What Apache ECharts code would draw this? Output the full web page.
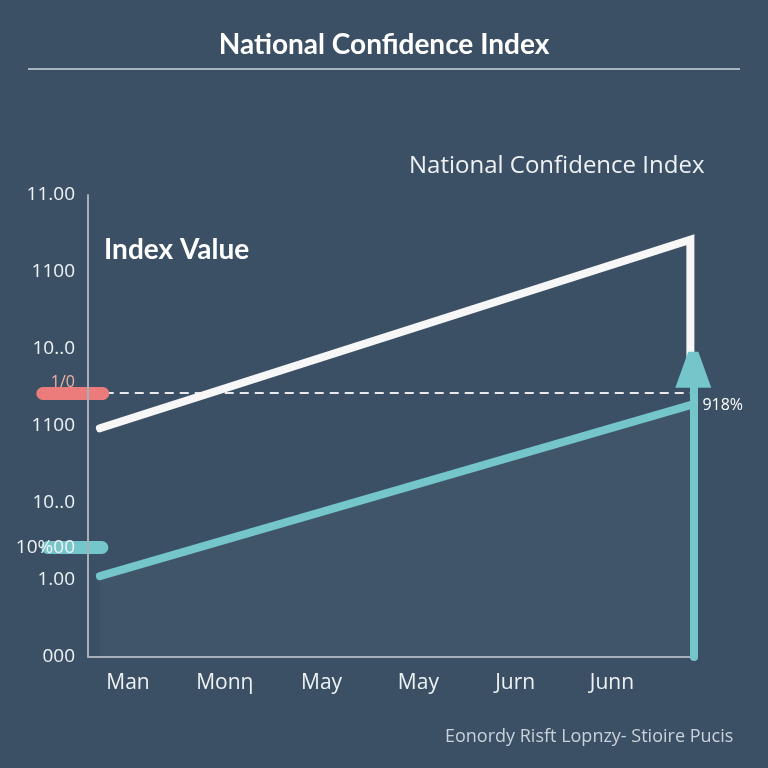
<!DOCTYPE html>
<html>
<head>
<meta charset="utf-8">
<script src="https://cdn.jsdelivr.net/npm/echarts@6/dist/echarts.min.js"></script>
<style>html,body{margin:0;padding:0;background:#3b5064;}#chart{width:768px;height:768px;}</style>
</head>
<body>
<div id="chart"></div>
<script>
// ---- data ----
const monthLabels = ['Man', 'Monη', 'May', 'May', 'Jurn', 'Junn'];
const monthPositions = [0, 1, 2, 3, 4, 5];
const yTickValues = [0, 1, 1.42, 2, 3, 3.56, 4, 5, 6];
const yTickLabels = ['000', '1.00', '10%00', '10..0', '1100', '1/0', '10..0', '1100', '11.00'];
const whiteX = [-0.29, 5.81, 5.81];
const whiteY = [2.97, 5.42, 3.83];
const tealX = [-0.29, 5.81];
const tealY = [1.05, 3.27];
const tealEndLabel = '918%';
const arrowX = [5.84, 5.84];
const arrowY = [0, 3.73];
const dashedLevel = 3.43;
const dashedX = [-0.24, 5.84];
const redMarkerX = [-0.88, -0.26];
const redMarkerY = [3.43, 3.43];
const tealMarkerX = [-0.83, -0.27];
const tealMarkerY = [1.42, 1.42];

const chart = echarts.init(document.getElementById('chart'));
const zip = (xs, ys) => xs.map((x, i) => [x, ys[i]]);

const option = {
  backgroundColor: '#3b5064',
  animation: false,
  title: [
    { text: 'National Confidence Index', left: 'center', top: 26,
      textStyle: { color: '#ffffff', fontSize: 28, fontWeight: 'bold', fontFamily: 'Lato' } },
    { text: 'National Confidence Index', left: 404, top: 149,
      textStyle: { color: '#eef2f4', fontSize: 24, fontWeight: 'normal', fontFamily: 'Open Sans' } },
    { text: 'Index Value', left: 99, top: 231,
      textStyle: { color: '#ffffff', fontSize: 28, fontWeight: 'bold', fontFamily: 'Lato' } },
    { text: 'Eonordy Risft Lopnzy- Stioire Pucis', left: 440, top: 723,
      textStyle: { color: '#c9d2da', fontSize: 18, fontWeight: 'normal', fontFamily: 'Open Sans' } }
  ],
  graphic: [
    { type: 'line', shape: { x1: 28, y1: 69, x2: 740, y2: 69 },
      style: { stroke: '#a9b5be', lineWidth: 2 } }
  ],
  grid: { left: 88, right: 75, top: 195, bottom: 111 },
  xAxis: {
    type: 'value', min: -0.413, max: 5.837,
    axisLine: { show: true, onZero: false, lineStyle: { color: '#a5b0ba', width: 2 } },
    axisTick: { show: false },
    splitLine: { show: false },
    axisLabel: {
      customValues: monthPositions,
      formatter: v => monthLabels[monthPositions.indexOf(Math.round(v))] || '',
      color: '#eef2f4', fontSize: 21, margin: 16, fontFamily: 'Open Sans'
    }
  },
  yAxis: {
    type: 'value', min: 0, max: 6, z: 10,
    axisLine: { show: true, onZero: false, lineStyle: { color: '#a5b0ba', width: 2 } },
    axisTick: { show: false },
    splitLine: { show: false },
    axisLabel: {
      customValues: yTickValues,
      formatter: v => {
        const i = yTickValues.findIndex(t => Math.abs(t - v) < 1e-6);
        const s = yTickLabels[i];
        if (s === '1/0') return '{r|' + s + '}';
        return s;
      },
      color: '#eef2f4', fontSize: 19, margin: 13, fontFamily: 'Open Sans',
      rich: { r: { color: '#f2b0a8', fontSize: 16, fontFamily: 'Open Sans' } }
    }
  },
  series: [
    {
      name: 'Dashed', type: 'line', data: zip(dashedX, [dashedLevel, dashedLevel]),
      symbol: 'none', z: 1,
      lineStyle: { color: '#e6eaee', width: 2, type: [9, 6] }
    },
    {
      name: 'Teal', type: 'line', data: zip(tealX, tealY), symbol: 'none', z: 3,
      lineStyle: { color: '#74c6ca', width: 8, cap: 'round' },
      areaStyle: { color: 'rgba(255,255,255,0.045)', origin: 'start' },
      endLabel: { show: true, formatter: tealEndLabel, color: '#ffffff', fontSize: 16,
        fontFamily: 'Open Sans', offset: [4, 0] }
    },
    {
      name: 'White', type: 'line', data: zip(whiteX, whiteY), symbol: 'none', z: 4,
      lineStyle: { color: '#f7f7f7', width: 8, cap: 'round', join: 'miter' }
    },
    {
      name: 'Arrow', type: 'lines', coordinateSystem: 'cartesian2d', z: 5, clip: false,
      symbol: ['none', 'path://M36,0 L64,0 L100,100 L0,100 Z'], symbolSize: [31, 36],
      lineStyle: { color: '#74c6ca', width: 8, opacity: 1, curveness: 0, cap: 'round' },
      data: [{ coords: zip(arrowX, arrowY) }]
    },
    {
      name: 'Markers', type: 'lines', coordinateSystem: 'cartesian2d', z: 6, clip: false,
      symbol: ['none', 'none'],
      lineStyle: { width: 13, opacity: 1, curveness: 0, cap: 'round' },
      data: [
        { coords: zip(redMarkerX, redMarkerY), lineStyle: { color: '#ec7c7b' } },
        { coords: zip(tealMarkerX, tealMarkerY), lineStyle: { color: '#74c6ca' } }
      ]
    }
  ]
};
chart.setOption(option);
</script>
</body>
</html>
